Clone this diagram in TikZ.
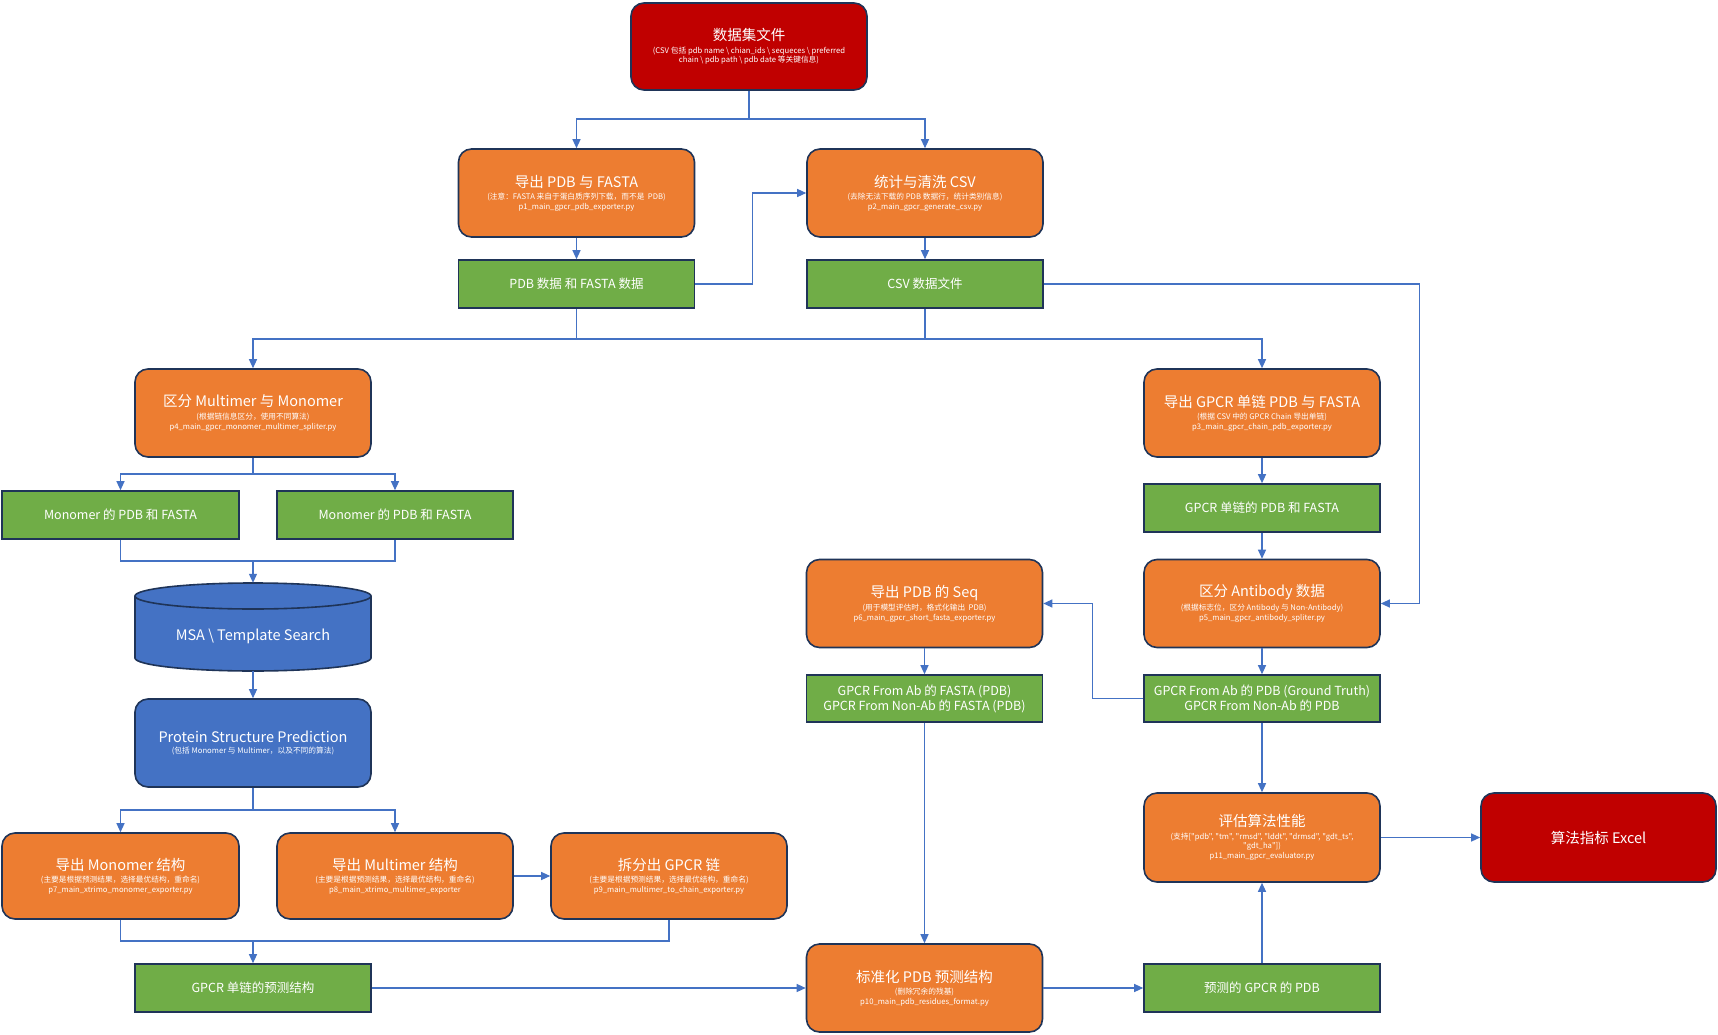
\documentclass[tikz,border=0pt]{standalone}
\usepackage{fontspec}
\setmainfont{Noto Sans CJK SC}[Ligatures=TeXOff]
\usetikzlibrary{arrows.meta,calc}
\definecolor{cred}{HTML}{C00000}
\definecolor{corange}{HTML}{ED7D31}
\definecolor{cgreen}{HTML}{70AD47}
\definecolor{cblue}{HTML}{4472C4}
\definecolor{cborder}{HTML}{1F3458}
\definecolor{cline}{HTML}{4472C4}
\newcommand{\boxttl}[1]{{\fontsize{14.5}{16}\selectfont #1}}
\begin{document}
\begin{tikzpicture}[x=1pt,y=-1pt,
  basebox/.style={draw=cborder, line width=1.6pt, text=white, align=center,
     minimum width=236pt, minimum height=88pt, inner sep=2pt,
     font=\fontsize{7.7}{9.5}\selectfont},
  obox/.style={basebox, rounded corners=13pt, fill=corange},
  rbox/.style={basebox, rounded corners=13pt, fill=cred},
  bbox/.style={basebox, rounded corners=13pt, fill=cblue},
  gbox/.style={basebox, fill=cgreen, minimum height=48pt, font=\fontsize{12.5}{15}\selectfont},
  conn/.style={draw=cline, line width=1.2pt},
  arr/.style={conn, -{Triangle[length=9pt,width=8pt]}}
]
\fill[white] (0,0) rectangle (1718,1035);
\useasboundingbox (0,0) rectangle (1718,1035);

% top
\node[rbox, minimum height=87pt] (top) at (749,46.5) {\boxttl{数据集文件}\\[3pt](CSV 包括 pdb name \textbackslash{} chian\_ids \textbackslash{} sequeces \textbackslash{} preferred\\chain \textbackslash{} pdb path \textbackslash{} pdb date 等关键信息)};

% row 1
\node[obox] (p1) at (576.5,193) {\boxttl{导出 PDB 与 FASTA}\\[3pt](注意：FASTA 来自于蛋白质序列下载，而不是 \ PDB)\\p1\_main\_gpcr\_pdb\_exporter.py};
\node[obox] (p2) at (925,193) {\boxttl{统计与清洗 CSV}\\[3pt](去除无法下载的 PDB 数据行，统计类别信息)\\p2\_main\_gpcr\_generate\_csv.py};
\node[gbox] (gpdb) at (576.5,284) {PDB 数据 和 FASTA 数据};
\node[gbox] (gcsv) at (925,284) {CSV 数据文件};

% left column
\node[obox] (p4) at (253,413) {\boxttl{区分 Multimer 与 Monomer}\\[3pt](根据链信息区分，使用不同算法)\\p4\_main\_gpcr\_monomer\_multimer\_spliter.py};
\node[gbox, minimum width=237pt] (mono1) at (120.5,515) {Monomer 的 PDB 和 FASTA};
\node[gbox] (mono2) at (395,515) {Monomer 的 PDB 和 FASTA};

% cylinder
\fill[cblue] (135,596) -- (135,658) arc[start angle=180,end angle=360,x radius=118pt,y radius=13pt] -- (371,596) arc[start angle=0,end angle=180,x radius=118pt,y radius=13pt] -- cycle;
\draw[cborder, line width=1.6pt] (135,596) -- (135,658) arc[start angle=180,end angle=360,x radius=118pt,y radius=13pt] -- (371,596);
\draw[cborder, line width=1.6pt, fill=cblue] (253,596) ellipse[x radius=118pt,y radius=13pt];
\node[minimum width=236pt, minimum height=88pt, inner sep=0pt] (msa) at (253,627) {};
\node[inner sep=0pt, text=white, font=\fontsize{14.5}{16}\selectfont] (msalabel) at (253,636) {MSA \textbackslash{} Template Search};

\node[bbox] (psp) at (253,743) {\boxttl{Protein Structure Prediction}\\[1pt](包括 Monomer 与 Multimer，以及不同的算法)};

\node[obox, minimum width=237pt, minimum height=86pt] (e7) at (120.5,876) {\boxttl{导出 Monomer 结构}\\[3pt](主要是根据预测结果，选择最优结构，重命名)\\p7\_main\_xtrimo\_monomer\_exporter.py};
\node[obox, minimum height=86pt] (e8) at (395,876) {\boxttl{导出 Multimer 结构}\\[3pt](主要是根据预测结果，选择最优结构，重命名)\\p8\_main\_xtrimo\_multimer\_exporter};
\node[obox, minimum height=86pt] (e9) at (669,876) {\boxttl{拆分出 GPCR 链}\\[3pt](主要是根据预测结果，选择最优结构，重命名)\\p9\_main\_multimer\_to\_chain\_exporter.py};
\node[gbox] (gpred) at (253,988) {GPCR 单链的预测结构};

% middle column
\node[obox] (p6) at (924.5,603.5) {\boxttl{导出 PDB 的 Seq}\\[3pt](用于模型评估时，格式化输出 \ PDB)\\p6\_main\_gpcr\_short\_fasta\_exporter.py};
\node[gbox, minimum height=47pt] (gfasta) at (924.5,698.5) {GPCR From Ab 的 FASTA (PDB)\\GPCR From Non-Ab 的 FASTA (PDB)};
\node[obox] (p10) at (924.5,988) {\boxttl{标准化 PDB 预测结构}\\[3pt](删除冗余的残基)\\p10\_main\_pdb\_residues\_format.py};

% right column
\node[obox] (p3) at (1262,413) {\boxttl{导出 GPCR 单链 PDB 与 FASTA}\\[3pt](根据 CSV 中的 GPCR Chain 导出单链)\\p3\_main\_gpcr\_chain\_pdb\_exporter.py};
\node[gbox] (gchain) at (1262,508) {GPCR 单链的 PDB 和 FASTA};
\node[obox] (p5) at (1262,603.5) {\boxttl{区分 Antibody 数据}\\[3pt](根据标志位，区分 Antibody 与 Non-Antibody)\\p5\_main\_gpcr\_antibody\_spliter.py};
\node[gbox, minimum height=47pt] (gab) at (1262,698.5) {GPCR From Ab 的 PDB (Ground Truth)\\GPCR From Non-Ab 的 PDB};
\node[obox, minimum height=89pt] (p11) at (1262,837.5) {\boxttl{评估算法性能}\\[3pt](支持["pdb", "tm", "rmsd", "lddt", "drmsd", "gdt\_ts",\\"gdt\_ha"])\\p11\_main\_gpcr\_evaluator.py};
\node[gbox] (gpdbpred) at (1262,988) {预测的 GPCR 的 PDB};
\node[rbox, minimum width=235pt, minimum height=89pt] (excel) at (1598.5,837.5) {\boxttl{算法指标 Excel}};

% connectors
\coordinate (b1) at (749,119);
\draw[conn] (top.south) -- (b1);
\draw[arr] (b1) -| (p1.north);
\draw[arr] (b1) -| (p2.north);
\draw[arr] (p1.south) -- (gpdb.north);
\draw[arr] (p2.south) -- (gcsv.north);
\draw[arr] (gpdb.east) -- ++(57,0) |- (p2.west);
\draw[arr] (gcsv.east) -- ++(376,0) |- (p5.east);

\coordinate (h2) at (576.5,339);
\coordinate (h3) at (925,339);
\draw[conn] (gpdb.south) -- (h2);
\draw[conn] (gcsv.south) -- (h3);
\draw[conn] (h2) -- (h3);
\draw[arr] (h2) -| (p4.north);
\draw[arr] (h3) -| (p3.north);

\coordinate (h4) at (253,474);
\draw[conn] (p4.south) -- (h4);
\draw[arr] (h4) -| (mono1.north);
\draw[arr] (h4) -| (mono2.north);
\coordinate (h5) at (253,561);
\draw[conn] (mono1.south) |- (h5) -| (mono2.south);
\draw[arr] (h5) -- (msa.north);
\draw[arr] (msa.south) -- (psp.north);

\coordinate (h6) at (253,810);
\draw[conn] (psp.south) -- (h6);
\draw[arr] (h6) -| (e7.north);
\draw[arr] (h6) -| (e8.north);
\draw[arr] (e8.east) -- (e9.west);
\coordinate (h7) at (253,941);
\draw[conn] (e7.south) |- (h7) -| (e9.south);
\draw[arr] (h7) -- (gpred.north);
\draw[arr] (gpred.east) -- (p10.west);
\draw[arr] (p10.east) -- (gpdbpred.west);
\draw[arr] (gpdbpred.north) -- (p11.south);
\draw[arr] (p11.east) -- (excel.west);

\draw[arr] (p3.south) -- (gchain.north);
\draw[arr] (gchain.south) -- (p5.north);
\draw[arr] (p5.south) -- (gab.north);
\draw[arr] (gab.south) -- (p11.north);
\draw[arr] (gab.west) -- ++(-51,0) |- (p6.east);
\draw[arr] (p6.south) -- (gfasta.north);
\draw[arr] (gfasta.south) -- (p10.north);
\end{tikzpicture}
\end{document}
